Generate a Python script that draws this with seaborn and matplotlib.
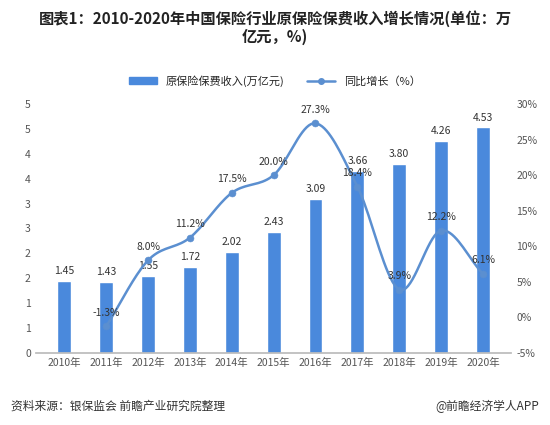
import numpy as np
import pandas as pd
import matplotlib
matplotlib.use("Agg")
import matplotlib.pyplot as plt
import seaborn as sns
from matplotlib.lines import Line2D
from matplotlib.patches import Patch

sns.set_theme(style="white")
plt.rcParams['font.family'] = ['Noto Sans CJK SC', 'DejaVu Sans']

years = ["2010年","2011年","2012年","2013年","2014年","2015年","2016年","2017年","2018年","2019年","2020年"]
income = [1.45,1.43,1.55,1.72,2.02,2.43,3.09,3.66,3.80,4.26,4.53]
growth = [None,-1.3,8.0,11.2,17.5,20.0,27.3,18.4,3.9,12.2,6.1]
ytick_vals = [0,0.5,1,1.5,2,2.5,3,3.5,4,4.5,5]
ytick_labels = ["0","1","1","2","2","3","3","4","4","5","5"]
rtick_vals = [-5,0,5,10,15,20,25,30]

blue = "#4a89dc"
line_c = "#5b8fd0"

fig = plt.figure(figsize=(5.5,4.25), dpi=100)
ax = fig.add_axes([0.065,0.17,0.865,0.585])
df = pd.DataFrame({"year":years,"income":income})
sns.barplot(data=df, x="year", y="income", color=blue, width=0.33, ax=ax, saturation=1)
ax.set_ylim(0,5)
ax.set_yticks(ytick_vals)
ax.set_yticklabels(ytick_labels)
ax.set_xlabel(""); ax.set_ylabel("")
for i,v in enumerate(income):
    ax.text(i, v+0.1, f"{v:.2f}", ha="center", va="bottom", fontsize=7.5, color="#333")
ax.tick_params(axis="both", labelsize=7.5, colors="#555", length=0)
for s in ["top","right","left"]:
    ax.spines[s].set_visible(False)
ax.spines["bottom"].set_color("#bbb")

ax2 = ax.twinx()
ax2.set_ylim(-5,30)
ax2.set_yticks(rtick_vals)
ax2.set_yticklabels([f"{v}%" for v in rtick_vals])
ax2.tick_params(axis="y", labelsize=7.5, colors="#555", length=0)
for s in ax2.spines.values():
    s.set_visible(False)

xs = np.arange(1, len(years))
ys = np.array(growth[1:], dtype=float)
# Catmull-Rom smoothing for display
P = np.vstack([xs, ys]).T
P = np.vstack([P[0]-(P[1]-P[0]), P, P[-1]+(P[-1]-P[-2])])
cx, cy = [], []
for k in range(1, len(P)-2):
    p0,p1,p2,p3 = P[k-1],P[k],P[k+1],P[k+2]
    t = np.linspace(0,1,20)[:,None]
    c = 0.5*((2*p1)+(-p0+p2)*t+(2*p0-5*p1+4*p2-p3)*t**2+(-p0+3*p1-3*p2+p3)*t**3)
    cx.extend(c[:,0]); cy.extend(c[:,1])
ax2.plot(cx, cy, color=line_c, lw=1.8)
sns.scatterplot(x=xs, y=ys, color=line_c, s=25, ax=ax2, zorder=5, edgecolor=line_c)
for x,y in zip(xs,ys):
    ax2.text(x, y+1.2, f"{y:.1f}%", ha="center", va="bottom", fontsize=7.5, color="#333")

fig.text(0.5,0.975,"图表1：2010-2020年中国保险行业原保险保费收入增长情况(单位：万\n亿元，%)",
         ha="center", va="top", fontsize=11, fontweight="bold", color="#222", linespacing=1.1)
handles = [Patch(color=blue), Line2D([0],[0],color=line_c,marker="o",ms=4,lw=1.8)]
fig.legend(handles, ["原保险保费收入(万亿元)","同比增长（%）"], loc="center", bbox_to_anchor=(0.5,0.81),
           ncol=2, frameon=False, fontsize=8, handlelength=2.5, columnspacing=2)
fig.text(0.02,0.035,"资料来源：银保监会 前瞻产业研究院整理", fontsize=8.5, color="#333")
fig.text(0.98,0.035,"@前瞻经济学人APP", fontsize=8.5, color="#333", ha="right")
fig.savefig("out.png", dpi=100)
